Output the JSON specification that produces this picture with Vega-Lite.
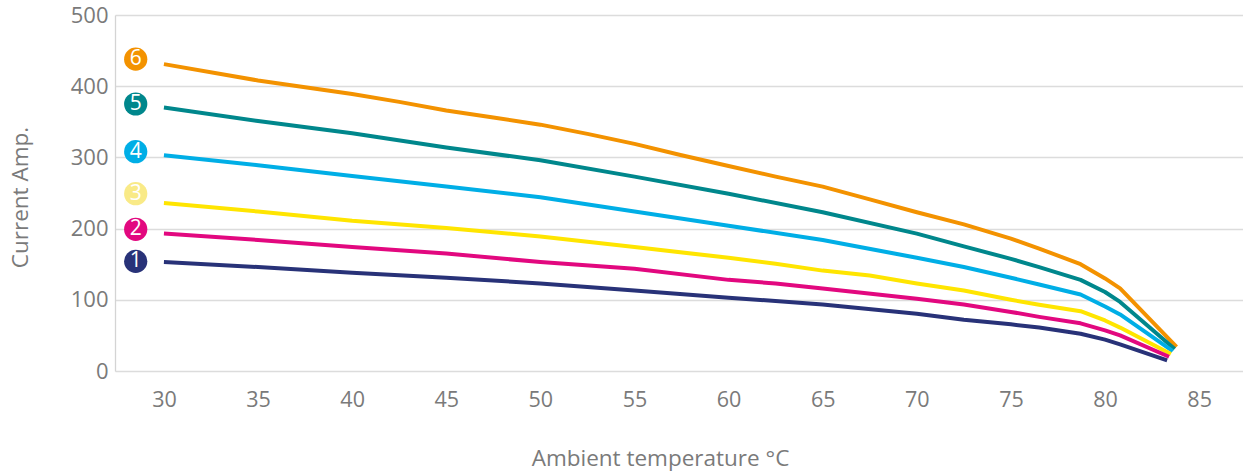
{
  "$schema": "https://vega.github.io/schema/vega-lite/v6.json",
  "autosize": "none",
  "width": 1128,
  "height": 356,
  "padding": {"left": 115, "top": 15, "right": 0, "bottom": 101},
  "background": "white",
  "config": {
    "font": "Open Sans",
    "view": {"stroke": null}
  },
  "datasets": {
    "lines": [
      {"s": "6", "t": 30, "a": 431}, {"s": "6", "t": 35, "a": 408}, {"s": "6", "t": 40, "a": 389}, {"s": "6", "t": 42.5, "a": 378}, {"s": "6", "t": 45, "a": 366}, {"s": "6", "t": 47.5, "a": 356}, {"s": "6", "t": 50, "a": 346}, {"s": "6", "t": 52.5, "a": 333}, {"s": "6", "t": 55, "a": 319}, {"s": "6", "t": 57.5, "a": 303}, {"s": "6", "t": 60, "a": 288}, {"s": "6", "t": 62.5, "a": 273}, {"s": "6", "t": 65, "a": 259}, {"s": "6", "t": 67.5, "a": 241}, {"s": "6", "t": 70, "a": 223}, {"s": "6", "t": 72.5, "a": 206}, {"s": "6", "t": 75, "a": 186}, {"s": "6", "t": 76.5, "a": 172}, {"s": "6", "t": 78.7, "a": 150}, {"s": "6", "t": 80, "a": 130}, {"s": "6", "t": 80.8, "a": 116}, {"s": "6", "t": 83.8, "a": 34},
      {"s": "5", "t": 30, "a": 370}, {"s": "5", "t": 35, "a": 351}, {"s": "5", "t": 40, "a": 334}, {"s": "5", "t": 45, "a": 314}, {"s": "5", "t": 50, "a": 296}, {"s": "5", "t": 55, "a": 273}, {"s": "5", "t": 60, "a": 249}, {"s": "5", "t": 65, "a": 223}, {"s": "5", "t": 70, "a": 193}, {"s": "5", "t": 72.5, "a": 175}, {"s": "5", "t": 75, "a": 157.5}, {"s": "5", "t": 76.5, "a": 146}, {"s": "5", "t": 78.7, "a": 128}, {"s": "5", "t": 80, "a": 111}, {"s": "5", "t": 80.8, "a": 97}, {"s": "5", "t": 83.7, "a": 31},
      {"s": "4", "t": 30, "a": 303}, {"s": "4", "t": 35, "a": 289}, {"s": "4", "t": 40, "a": 274}, {"s": "4", "t": 45, "a": 259}, {"s": "4", "t": 50, "a": 244}, {"s": "4", "t": 55, "a": 224}, {"s": "4", "t": 60, "a": 204}, {"s": "4", "t": 65, "a": 184}, {"s": "4", "t": 70, "a": 159}, {"s": "4", "t": 72.5, "a": 146}, {"s": "4", "t": 75, "a": 131}, {"s": "4", "t": 76.5, "a": 121.5}, {"s": "4", "t": 78.7, "a": 107.5}, {"s": "4", "t": 80, "a": 90.7}, {"s": "4", "t": 80.8, "a": 79.5}, {"s": "4", "t": 83.6, "a": 28},
      {"s": "3", "t": 30, "a": 236}, {"s": "3", "t": 35, "a": 224}, {"s": "3", "t": 40, "a": 211}, {"s": "3", "t": 45, "a": 201}, {"s": "3", "t": 50, "a": 189}, {"s": "3", "t": 55, "a": 174}, {"s": "3", "t": 60, "a": 159}, {"s": "3", "t": 62.5, "a": 150.5}, {"s": "3", "t": 65, "a": 141}, {"s": "3", "t": 67.5, "a": 134}, {"s": "3", "t": 70, "a": 123}, {"s": "3", "t": 72.5, "a": 113}, {"s": "3", "t": 75, "a": 100}, {"s": "3", "t": 76.5, "a": 93}, {"s": "3", "t": 78.7, "a": 84}, {"s": "3", "t": 80, "a": 71}, {"s": "3", "t": 80.8, "a": 61}, {"s": "3", "t": 83.5, "a": 24},
      {"s": "2", "t": 30, "a": 193}, {"s": "2", "t": 35, "a": 184}, {"s": "2", "t": 40, "a": 174}, {"s": "2", "t": 45, "a": 165}, {"s": "2", "t": 50, "a": 153}, {"s": "2", "t": 55, "a": 143.5}, {"s": "2", "t": 60, "a": 128}, {"s": "2", "t": 62.5, "a": 123}, {"s": "2", "t": 65, "a": 116}, {"s": "2", "t": 70, "a": 101.5}, {"s": "2", "t": 72.5, "a": 93.5}, {"s": "2", "t": 75, "a": 83}, {"s": "2", "t": 76.5, "a": 76}, {"s": "2", "t": 78.7, "a": 67}, {"s": "2", "t": 80, "a": 57}, {"s": "2", "t": 80.8, "a": 50}, {"s": "2", "t": 83.4, "a": 20},
      {"s": "1", "t": 30, "a": 153}, {"s": "1", "t": 35, "a": 146}, {"s": "1", "t": 40, "a": 138}, {"s": "1", "t": 45, "a": 131}, {"s": "1", "t": 50, "a": 123}, {"s": "1", "t": 55, "a": 113}, {"s": "1", "t": 60, "a": 103}, {"s": "1", "t": 65, "a": 93.5}, {"s": "1", "t": 70, "a": 80.5}, {"s": "1", "t": 72.5, "a": 72}, {"s": "1", "t": 75, "a": 65.5}, {"s": "1", "t": 76.5, "a": 61}, {"s": "1", "t": 78.7, "a": 52.4}, {"s": "1", "t": 80, "a": 44}, {"s": "1", "t": 80.8, "a": 37.4}, {"s": "1", "t": 83.3, "a": 15}
    ],
    "badges": [
      {"s": "6", "t": 28.5, "a": 438},
      {"s": "5", "t": 28.5, "a": 375},
      {"s": "4", "t": 28.5, "a": 308},
      {"s": "3", "t": 28.5, "a": 249},
      {"s": "2", "t": 28.5, "a": 199},
      {"s": "1", "t": 28.5, "a": 154}
    ]
  },
  "encoding": {
    "x": {
      "field": "t", "type": "quantitative",
      "scale": {"domain": [27.4, 87.33], "nice": false, "zero": false},
      "axis": {
        "title": "Ambient temperature °C",
        "values": [30, 35, 40, 45, 50, 55, 60, 65, 70, 75, 80, 85],
        "grid": false, "domain": false, "ticks": false,
        "labelFontSize": 21.5, "labelColor": "#7a7a7a", "labelPadding": 18,
        "labelFont": "Open Sans",
        "titleFontSize": 22.5, "titleColor": "#7a7a7a", "titleFontWeight": "normal",
        "titleFont": "Open Sans",
        "titleX": 545, "titleY": 94, "titleAlign": "center", "titleBaseline": "alphabetic"
      }
    },
    "y": {
      "field": "a", "type": "quantitative",
      "scale": {"domain": [0, 500], "nice": false},
      "axis": {
        "title": "Current Amp.",
        "values": [0, 100, 200, 300, 400, 500],
        "grid": true, "gridColor": "#dcdcdc", "gridWidth": 1.3,
        "domain": true, "domainColor": "#d4d4d4", "domainWidth": 1.3,
        "ticks": false,
        "labelFontSize": 22, "labelColor": "#7a7a7a", "labelPadding": 7,
        "labelFont": "Open Sans",
        "titleFontSize": 22.5, "titleColor": "#7a7a7a", "titleFontWeight": "normal",
        "titleFont": "Open Sans",
        "titleX": -95, "titleY": 182, "titleAngle": -90, "titleAlign": "center", "titleBaseline": "middle"
      }
    }
  },
  "layer": [
    {
      "data": {"name": "lines"},
      "mark": {"type": "line", "strokeWidth": 4, "strokeJoin": "round"},
      "encoding": {
        "order": {"field": "t"},
        "color": {
          "field": "s", "type": "nominal",
          "scale": {
            "domain": ["1", "2", "3", "4", "5", "6"],
            "range": ["#283278", "#E2087F", "#FFE500", "#00AEE6", "#00878C", "#F39200"]
          },
          "legend": null
        }
      }
    },
    {
      "data": {"name": "badges"},
      "mark": {"type": "point", "shape": "circle", "filled": true, "opacity": 1, "size": 540},
      "encoding": {
        "color": {
          "field": "s", "type": "nominal",
          "scale": {
            "domain": ["1", "2", "3", "4", "5", "6"],
            "range": ["#283278", "#E2087F", "#F9EA87", "#00AEE6", "#00878C", "#F39200"]
          },
          "legend": null
        }
      }
    },
    {
      "data": {"name": "badges"},
      "mark": {"type": "text", "fontSize": 21, "font": "Open Sans", "align": "center", "baseline": "middle", "dy": 0},
      "encoding": {"text": {"field": "s"}, "color": {"value": "white"}}
    }
  ],
  "resolve": {"scale": {"color": "independent"}}
}
